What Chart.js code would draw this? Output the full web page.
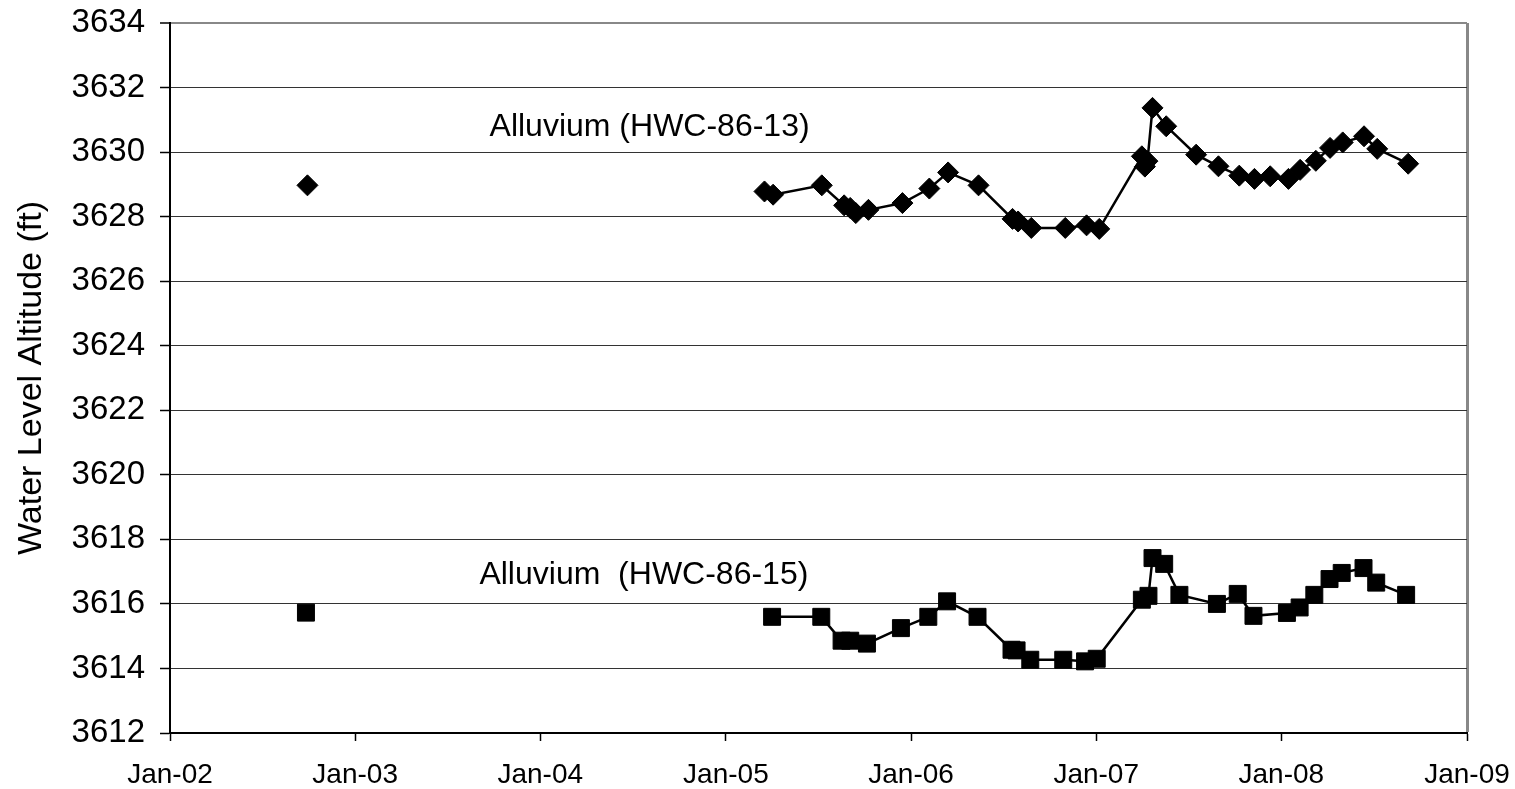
<!DOCTYPE html>
<html>
<head>
<meta charset="utf-8">
<title>Water Level Altitude</title>
<script src="https://cdn.jsdelivr.net/npm/chart.js@4/dist/chart.umd.min.js"></script>
<style>
  html, body { margin: 0; padding: 0; background: #fff; }
  #wrap { width: 1515px; height: 789px; }
</style>
</head>
<body>
<div id="wrap"><canvas id="chart" width="1515" height="789"></canvas></div>
<script>
// Alluvium (HWC-86-13) - diamonds
const dates13 = [
  '2002-09-29',
  '2005-03-18', '2005-04-04', '2005-07-09', '2005-08-22', '2005-09-03', '2005-09-14', '2005-10-09',
  '2005-12-15', '2006-02-06', '2006-03-15', '2006-05-14', '2006-07-20', '2006-07-31', '2006-08-26',
  '2006-11-01', '2006-12-13', '2007-01-07', '2007-04-01', '2007-04-07', '2007-04-12', '2007-04-22',
  '2007-05-19', '2007-07-17', '2007-08-30', '2007-10-10', '2007-11-09', '2007-12-10', '2008-01-15',
  '2008-02-07', '2008-03-09', '2008-04-06', '2008-05-01', '2008-06-12', '2008-07-08', '2008-09-07'
];
const levels13 = [
  3628.97,
  3628.78, 3628.68, 3628.97, 3628.35, 3628.27, 3628.11, 3628.21,
  3628.42, 3628.87, 3629.37, 3628.97, 3627.93, 3627.85, 3627.65,
  3627.65, 3627.73, 3627.62, 3629.87, 3629.55, 3629.72, 3631.37,
  3630.80, 3629.92, 3629.56, 3629.27, 3629.17, 3629.25, 3629.17,
  3629.45, 3629.73, 3630.13, 3630.30, 3630.49, 3630.10, 3629.64
];

// Alluvium (HWC-86-15) - squares
const dates15 = [
  '2002-09-26',
  '2005-04-02', '2005-07-08', '2005-08-17', '2005-09-03', '2005-10-06', '2005-12-12', '2006-02-04',
  '2006-03-13', '2006-05-12', '2006-07-18', '2006-07-28', '2006-08-24', '2006-10-28', '2006-12-10',
  '2007-01-02', '2007-04-01', '2007-04-14', '2007-04-22', '2007-05-15', '2007-06-14', '2007-08-27',
  '2007-10-07', '2007-11-07', '2008-01-12', '2008-02-06', '2008-03-06', '2008-04-05', '2008-04-29',
  '2008-06-11', '2008-07-06', '2008-09-03'
];
const levels15 = [
  3615.73,
  3615.60, 3615.60, 3614.86, 3614.86, 3614.77, 3615.25, 3615.60,
  3616.08, 3615.60, 3614.58, 3614.56, 3614.27, 3614.27, 3614.22,
  3614.30, 3616.13, 3616.25, 3617.42, 3617.24, 3616.28, 3616.00,
  3616.31, 3615.63, 3615.72, 3615.89, 3616.28, 3616.77, 3616.96,
  3617.11, 3616.66, 3616.28
];

const xTickDates = ['2002-01-01', '2003-01-01', '2004-01-01', '2005-01-01', '2006-01-01', '2007-01-01', '2008-01-01', '2009-01-01'];
const xTickLabels = ['Jan-02', 'Jan-03', 'Jan-04', 'Jan-05', 'Jan-06', 'Jan-07', 'Jan-08', 'Jan-09'];

const yMin = 3612, yMax = 3634, yStep = 2;

// in-plot labels
const noteTexts = ['Alluvium (HWC-86-13)', 'Alluvium  (HWC-86-15)'];
const noteDates = ['2003-09-23', '2003-09-03'];
const noteLevels = [3630.77, 3616.9];

const FONT = '"Liberation Sans", Arial, sans-serif';
const DAY = 864e5;

function ts(d) { return new Date(d).getTime(); }
function toPoints(ds, vs) { return ds.map((d, i) => ({ x: ts(d), y: vs[i] })); }

// no line across the long gap between 2002 and 2005
const gapSegment = {
  borderColor: (ctx) => (ctx.p1.parsed.x - ctx.p0.parsed.x > 365 * DAY ? 'rgba(0,0,0,0)' : '#000')
};

const notesPlugin = {
  id: 'notes',
  afterDatasetsDraw(chart) {
    const { ctx, scales: { x, y } } = chart;
    ctx.save();
    ctx.fillStyle = '#000';
    ctx.font = `32px ${FONT}`;
    ctx.textAlign = 'left';
    ctx.textBaseline = 'middle';
    noteTexts.forEach((t, i) => {
      ctx.fillText(t, x.getPixelForValue(ts(noteDates[i])), y.getPixelForValue(noteLevels[i]));
    });
    ctx.restore();
  }
};

const xMin = ts(xTickDates[0]);
const xMax = ts(xTickDates[xTickDates.length - 1]);

new Chart(document.getElementById('chart'), {
  type: 'line',
  data: {
    datasets: [
      {
        label: 'Alluvium (HWC-86-13)',
        data: toPoints(dates13, levels13),
        borderColor: '#000',
        borderWidth: 2.5,
        backgroundColor: '#000',
        pointStyle: 'rectRot',
        pointRadius: 10.5,
        pointBorderWidth: 1,
        pointBackgroundColor: '#000',
        pointBorderColor: '#000',
        tension: 0,
        segment: gapSegment
      },
      {
        label: 'Alluvium (HWC-86-15)',
        data: toPoints(dates15, levels15),
        borderColor: '#000',
        borderWidth: 2.5,
        backgroundColor: '#000',
        pointStyle: 'rect',
        pointRadius: 12,
        pointBorderWidth: 1,
        pointBackgroundColor: '#000',
        pointBorderColor: '#000',
        tension: 0,
        segment: gapSegment
      }
    ]
  },
  options: {
    responsive: false,
    animation: false,
    layout: { padding: { top: 23, right: 48, left: 0, bottom: 0 } },
    plugins: {
      legend: { display: false },
      tooltip: { enabled: false }
    },
    scales: {
      x: {
        type: 'linear',
        min: xMin,
        max: xMax,
        afterBuildTicks: (axis) => { axis.ticks = xTickDates.map(d => ({ value: ts(d) })); },
        afterFit: (axis) => {
          axis.height = 56;
          axis.paddingLeft = 0;
          axis.paddingRight = 0;
        },
        ticks: {
          autoSkip: false,
          maxRotation: 0,
          padding: 17,
          color: '#000',
          font: { family: FONT, size: 28 },
          callback: (v, i) => xTickLabels[i]
        },
        grid: {
          color: (c) => (c.tick && c.tick.value === xMax ? '#888' : 'rgba(0,0,0,0)'),
          lineWidth: (c) => (c.tick && c.tick.value === xMax ? 3 : 1),
          drawTicks: true,
          tickLength: 8,
          tickColor: '#000',
          tickWidth: 1.5
        },
        border: { display: true, color: '#000', width: 2 }
      },
      y: {
        min: yMin,
        max: yMax,
        afterFit: (axis) => {
          axis.width = 170;
          axis.paddingTop = 0;
          axis.paddingBottom = 0;
        },
        ticks: {
          stepSize: yStep,
          padding: 15,
          color: '#000',
          font: { family: FONT, size: 33 },
          callback: (v) => String(v)
        },
        grid: {
          color: (c) => (c.tick && c.tick.value === yMax ? '#888' : '#333'),
          lineWidth: (c) => (c.tick && c.tick.value === yMax ? 2 : 1),
          drawTicks: true,
          tickLength: 10,
          tickColor: '#000',
          tickWidth: 1.5
        },
        border: { display: true, color: '#000', width: 2 },
        title: {
          display: true,
          text: 'Water Level Altitude (ft)',
          color: '#000',
          font: { family: FONT, size: 34 },
          padding: { top: 11, bottom: 0 }
        }
      }
    }
  },
  plugins: [notesPlugin]
});
</script>
</body>
</html>
